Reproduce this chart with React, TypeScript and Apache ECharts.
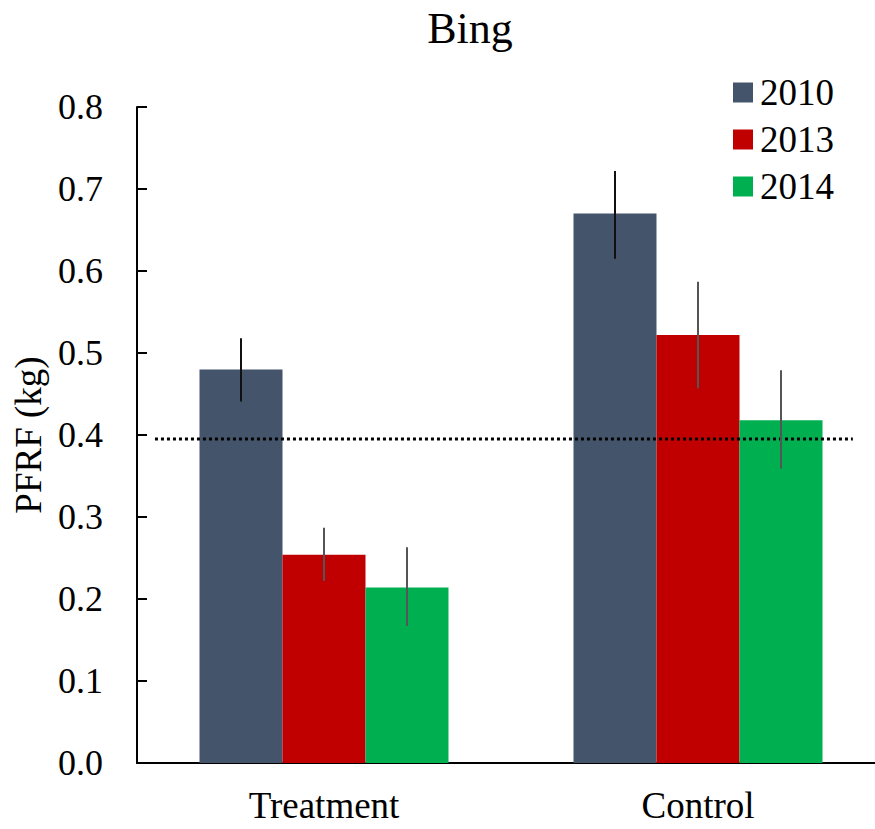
import React, { useEffect, useRef } from "react";
import * as echarts from "echarts";

const categories = ["Treatment", "Control"];
const years = ["2010", "2013", "2014"];
const values2010 = [0.48, 0.67];
const values2013 = [0.254, 0.522];
const values2014 = [0.214, 0.418];
const err2010 = [[0.441, 0.518], [0.615, 0.722]];
const err2013 = [[0.222, 0.287], [0.457, 0.587]];
const err2014 = [[0.167, 0.263], [0.359, 0.479]];
const refValue = 0.395;
const refSpan = [0.024, 0.957];
const yTicks = ["0.0", "0.1", "0.2", "0.3", "0.4", "0.5", "0.6", "0.7", "0.8"];

const colors = ["#44546A", "#C00000", "#00B050"];
const errColors = ["#111111", "#555555", "#555555"];
const BAR_W = 83;
const FONT = "Liberation Serif";

export default function App() {
  const ref = useRef<HTMLDivElement>(null);
  useEffect(() => {
    if (!ref.current) return;
    const chart = echarts.init(ref.current, null, { renderer: "svg" });
    const seriesVals = [values2010, values2013, values2014];
    const errs = [err2010, err2013, err2014];
    const errData: number[][] = [];
    errs.forEach((e, s) => e.forEach((lh, c) => errData.push([c, s, lh[0], lh[1]])));

    chart.setOption({
      animation: false,
      textStyle: { fontFamily: FONT },
      title: {
        text: "Bing",
        left: 465,
        top: 1,
        textAlign: "center",
        textStyle: { fontFamily: FONT, fontSize: 44, fontWeight: "normal", color: "#000" },
      },
      legend: {
        data: years,
        orient: "vertical",
        left: 728,
        top: 69,
        itemWidth: 20,
        itemHeight: 20,
        itemGap: 10,
        icon: "rect",
        textStyle: { fontFamily: FONT, fontSize: 37, color: "#000", lineHeight: 36, padding: [0, 0, 0, 2] },
      },
      grid: { left: 137, right: 15, top: 107, bottom: 66 },
      xAxis: [
        {
          type: "category",
          data: categories,
          axisLine: { lineStyle: { color: "#000", width: 2 } },
          axisTick: { show: false },
          axisLabel: { fontFamily: FONT, fontSize: 37, color: "#000", margin: 24 },
        },
        { type: "value", min: 0, max: 1, show: false },
      ],
      yAxis: {
        type: "value",
        min: 0,
        max: 0.8,
        interval: 0.1,
        name: "PFRF (kg)",
        nameLocation: "middle",
        nameGap: 86,
        nameTextStyle: { fontFamily: FONT, fontSize: 37, color: "#000" },
        axisLine: { show: true, lineStyle: { color: "#000", width: 2 } },
        axisTick: { show: true, inside: true, length: 10, lineStyle: { color: "#000", width: 2 } },
        splitLine: { show: false },
        axisLabel: {
          fontFamily: FONT,
          fontSize: 36,
          color: "#000",
          margin: 34,
          formatter: (v: number) => yTicks[Math.round(v * 10)] ?? "",
        },
      },
      series: [
        ...years.map((y, i) => ({
          name: y,
          type: "bar",
          data: seriesVals[i],
          barWidth: BAR_W,
          barGap: "0%",
          itemStyle: { color: colors[i] },
          z: 2,
        })),
        {
          type: "line",
          xAxisIndex: 1,
          data: [
            [refSpan[0], refValue],
            [refSpan[1], refValue],
          ],
          symbol: "none",
          lineStyle: { color: "#000", width: 3, type: [3, 3] },
          z: 4,
          silent: true,
        },
        {
          type: "custom",
          data: errData,
          encode: { x: 0, y: [2, 3] },
          z: 5,
          silent: true,
          renderItem: (params: any, api: any) => {
            const c = api.value(0);
            const s = api.value(1);
            const lo = api.coord([c, api.value(2)]);
            const hi = api.coord([c, api.value(3)]);
            const x = lo[0] + (s - 1) * BAR_W;
            return {
              type: "line",
              shape: { x1: x, y1: lo[1], x2: x, y2: hi[1] },
              style: { stroke: errColors[s], lineWidth: 2 },
            };
          },
        },
      ],
    });
    return () => chart.dispose();
  }, []);
  return (
    <div
      ref={ref}
      style={{ position: "fixed", left: 0, top: 0, width: 900, height: 829, background: "#fff" }}
    />
  );
}
